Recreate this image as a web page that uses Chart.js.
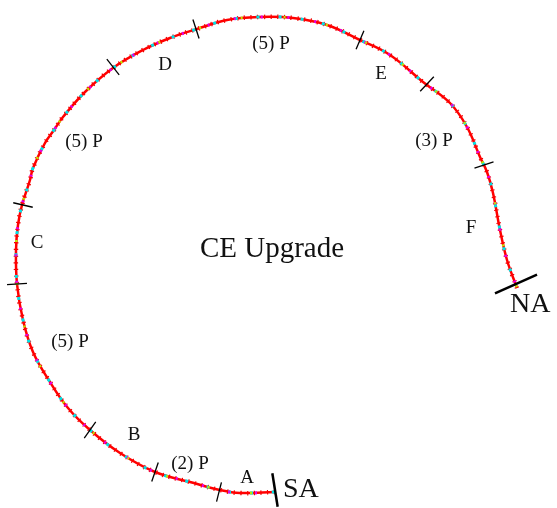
<!DOCTYPE html>
<html>
<head>
<meta charset="utf-8">
<script src="https://cdn.jsdelivr.net/npm/chart.js@4/dist/chart.umd.min.js"></script>
<style>
	body { margin: 0; background: #fff; }
	#wrap { width: 557px; height: 508px; }
</style>
</head>
<body>
<div id="wrap"><canvas id="routeChart" width="557" height="508"></canvas></div>
<script>

// route traced from SA (start) to NA (end), in picture units
const pathX = [275, 240, 220, 190, 155, 120, 90, 68, 50, 33, 23, 17, 16, 18, 22, 30, 33, 45, 54, 63, 85, 113, 143, 170, 197, 227, 260, 293, 327, 360, 390, 423, 450, 467, 480, 487, 493, 500, 507, 517];
const pathY = [492, 493, 490, 482, 472, 453, 430, 408, 382, 352, 320, 284, 250, 225, 205, 180, 168, 143, 130, 117, 92, 68, 50, 38, 29, 20, 17, 18, 25, 40, 55, 82, 103, 127, 157, 172, 193, 230, 260, 288];

// section boundaries along the route
const cutX = [219, 155, 90, 17, 23, 113, 196, 360, 427, 484];
const cutY = [492, 472, 430, 284, 205, 67, 29, 40, 84, 165];
const cutAngle = [104, 109, 125, -4, 13, 52, 72, 113, -47, -18];

// route end markers
const endX = [275, 516];
const endY = [490, 284];
const endAngle = [81, -24];
const endNames = ['SA', 'NA'];
const endNameX = [283, 510];
const endNameY = [497, 312];

// section names
const sectionNames = ['A', '(2) P', 'B', '(5) P', 'C', '(5) P', 'D', '(5) P', 'E', '(3) P', 'F'];
const sectionX = [247, 190, 134, 70, 37, 84, 165, 271, 381, 434, 471];
const sectionY = [478, 464, 435, 342, 243, 142, 65, 44, 74, 141, 228];

const title = 'CE Upgrade';
const titleX = 272;
const titleY = 249;

function routeLine(color, width, dash, offset) {
	return {
		data: pathX.map((x, i) => ({ x: x, y: pathY[i] })),
		showLine: true, tension: 0.4, pointRadius: 0,
		borderColor: color, borderWidth: width,
		borderDash: dash || [], borderDashOffset: offset || 0,
	};
}

function addRouteChart() {

	let cuts = cutX.map((x, i) => ({ x: x, y: cutY[i] }));
	let ends = endX.map((x, i) => ({ x: x, y: endY[i] }));

	let textPlugin = {
		id: 'routeText',
		afterDatasetsDraw(chart) {
			let ctx = chart.ctx;
			let sx = chart.scales.x;
			let sy = chart.scales.y;
			ctx.save();
			ctx.fillStyle = '#111';
			ctx.textAlign = 'center';
			ctx.textBaseline = 'middle';
			ctx.font = '19px "Liberation Serif"';
			sectionNames.forEach((t, i) => {
				ctx.fillText(t, sx.getPixelForValue(sectionX[i]), sy.getPixelForValue(sectionY[i]));
			});
			ctx.font = '29px "Liberation Serif"';
			ctx.fillText(title, sx.getPixelForValue(titleX), sy.getPixelForValue(titleY));
			ctx.font = '28px "Liberation Serif"';
			ctx.textAlign = 'left';
			ctx.textBaseline = 'alphabetic';
			endNames.forEach((t, i) => {
				ctx.fillText(t, sx.getPixelForValue(endNameX[i]), sy.getPixelForValue(endNameY[i]));
			});
			ctx.restore();
		}
	};

	// first dataset is drawn on top
	let ctx = document.getElementById('routeChart').getContext('2d');
	let myRouteChart = new Chart(ctx, {
		type: 'scatter',
		data: {
			datasets: [
				{
					data: ends, showLine: false, pointStyle: 'line', pointRadius: [17, 23],
					pointRotation: endAngle, borderColor: '#000', borderWidth: 2.5,
				},
				{
					data: cuts, showLine: false, pointStyle: 'line', pointRadius: 10,
					pointRotation: cutAngle, borderColor: '#000', borderWidth: 1.3,
				},
				routeLine('rgb(190, 230, 0)', 2.5, [2, 41], 20),
				routeLine('rgb(230, 0, 230)', 3, [2, 25], 9),
				routeLine('rgb(0, 225, 230)', 3, [3, 19], 0),
				routeLine('rgb(255, 0, 0)', 2.5),
				routeLine('rgb(235, 0, 0)', 4.5, [1.2, 5.5], 0),
			],
		},
		options: {
			responsive: false,
			animation: false,
			layout: { padding: 0, autoPadding: false },
			plugins: {
				legend: { display: false },
				tooltip: { enabled: false },
			},
			scales: {
				x: { display: false, min: 0, max: 557 },
				y: { display: false, min: 0, max: 508, reverse: true },
			},
		},
		plugins: [textPlugin],
	});

}

addRouteChart();

</script>
</body>
</html>
